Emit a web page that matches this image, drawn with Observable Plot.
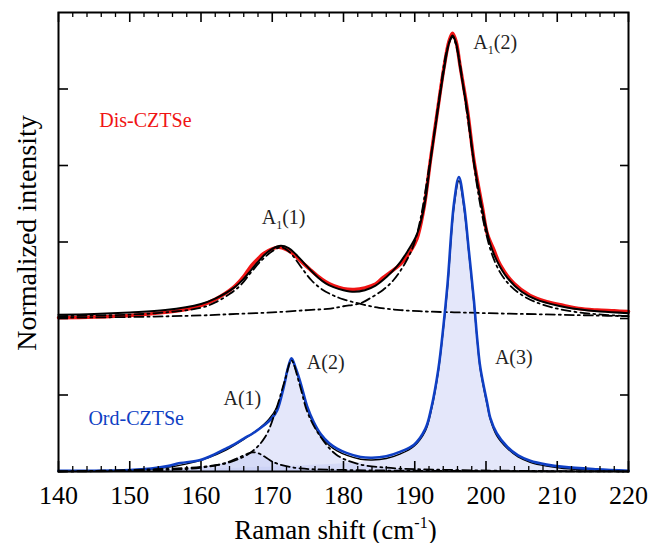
<!DOCTYPE html>
<html><head><meta charset="utf-8">
<script src="https://cdn.jsdelivr.net/npm/d3@7"></script>
<script src="https://cdn.jsdelivr.net/npm/@observablehq/plot@0.6"></script>
<style>
body{margin:0;background:#fff}
#chart svg, #chart svg text, #chart svg tspan {font-family: "Liberation Serif", "Times New Roman", serif !important;}
</style>
</head><body><div id="chart"></div>
<script>
// ---- Dis-CZTSe (offset spectrum) ----
const disDataX = [140,145,150,155,158,160,162,164.6,166,166.9,168,168.8,170,170.9,172,173,174,175.2,176.3,177.5,178.6,180,181.5,183,184.5,185.5,186.5,187.5,188.5,189.4,190.3,191.3,192.2,193.2,194.1,194.8,195.3,195.8,196.4,197.4,198.3,199.5,200.2,201.1,202,203.9,206.2,208.5,210.9,213,215.6,218,220];
const disDataY = [2.01,2.02,2.04,2.08,2.12,2.17,2.25,2.41,2.55,2.67,2.78,2.85,2.91,2.93,2.9,2.84,2.75,2.65,2.56,2.48,2.43,2.39,2.38,2.4,2.45,2.53,2.6,2.67,2.76,2.88,3.04,3.45,4.07,4.72,5.28,5.62,5.73,5.62,5.28,4.72,4.07,3.45,3.1,2.9,2.7,2.46,2.3,2.22,2.17,2.13,2.11,2.1,2.09];
const disFitX = [140,145,150,155,160,162,164.6,166,167,168,169,170,171.2,172.3,173.3,174.3,175.5,176.5,177.5,178.6,180,181.5,183,184.5,186,187.5,189,190.3,191.3,192.2,193.2,194.1,194.8,195.3,195.8,196.4,197.4,198.3,199.5,200.5,201.5,203,205,207,210,213,216,220];
const disFitY = [2.05,2.06,2.08,2.11,2.19,2.26,2.4,2.52,2.63,2.74,2.84,2.91,2.95,2.92,2.84,2.74,2.62,2.53,2.46,2.41,2.37,2.35,2.37,2.43,2.54,2.68,2.88,3.1,3.45,4.05,4.7,5.25,5.6,5.7,5.6,5.26,4.7,4.05,3.42,3.0,2.76,2.53,2.35,2.25,2.17,2.12,2.09,2.07];
const disA1X = [140,145,150,155,160,162,164,165.5,167,168.5,170,171.2,172.3,173.3,174.3,175.5,177,178.6,180,182.4,185,188,192,196,200,205,210,215,220];
const disA1Y = [2.03,2.04,2.05,2.08,2.14,2.21,2.32,2.43,2.6,2.76,2.88,2.93,2.88,2.77,2.64,2.5,2.38,2.3,2.25,2.19,2.14,2.11,2.09,2.08,2.07,2.06,2.05,2.04,2.03];
const disA2X = [140,150,160,165,170,175,178.2,180,182.4,184,185.5,187,188.5,189.8,190.8,191.8,192.7,193.6,194.5,195.3,196.1,197,197.9,198.8,199.8,200.8,202,203.5,205.5,208,211,215,220];
const disA2Y = [2.01,2.02,2.04,2.06,2.08,2.11,2.13,2.16,2.2,2.28,2.37,2.5,2.7,2.95,3.3,3.85,4.4,5.0,5.5,5.68,5.45,4.9,4.3,3.7,3.2,2.85,2.6,2.42,2.28,2.18,2.11,2.06,2.03];

// ---- Ord-CZTSe ----
const ordDataX = [140,145,150,153,155.3,157.1,159.9,161.8,163.5,164.6,166,167.3,168.8,170,170.7,171.6,172.2,172.7,173.3,174,174.9,175.8,176.8,178,179.1,180.5,182.4,184,186,188,189.9,191.5,192.3,193.3,194,194.6,195.5,196.2,196.9,197.6,198.3,198.8,199.2,200.2,200.6,201.5,203,204.5,206.2,208.5,210.9,215.6,220];
const ordDataY = [0.01,0.01,0.02,0.04,0.07,0.11,0.15,0.22,0.3,0.35,0.43,0.5,0.6,0.7,0.8,1.1,1.35,1.48,1.35,1.15,0.85,0.65,0.49,0.37,0.3,0.24,0.19,0.18,0.2,0.26,0.35,0.56,0.82,1.33,1.88,2.45,3.5,3.85,3.5,2.88,2.24,1.7,1.36,0.88,0.7,0.5,0.32,0.21,0.14,0.09,0.06,0.03,0.01];
const ordFitX = [140,150,155,158,161,163.5,166,168,169.5,170.7,171.6,172.2,172.7,173.3,174,174.9,175.8,176.8,178,179.1,180.5,182.4,184,186,188,189.9,191.5,192.3,193.3,194,194.6,195.5,196.2,196.9,197.6,198.3,198.8,199.2,200.2,200.6,201.5,203,204.5,206.2,208.5,210.9,215.6,220];
const ordFitY = [0.0,0.01,0.05,0.1,0.18,0.28,0.42,0.55,0.68,0.85,1.12,1.36,1.46,1.33,1.12,0.82,0.62,0.46,0.34,0.27,0.21,0.16,0.15,0.17,0.23,0.33,0.53,0.79,1.3,1.85,2.4,3.45,3.8,3.45,2.85,2.2,1.68,1.33,0.85,0.68,0.47,0.3,0.19,0.12,0.07,0.04,0.02,0.01];
const ordA1X = [140,155,160,163,165,166.5,167.2,168,169,170,171.5,174,180,190,220];
const ordA1Y = [0.0,0.02,0.05,0.1,0.17,0.23,0.25,0.24,0.19,0.13,0.08,0.04,0.02,0.01,0.0];
const ordA2X = [140,150,160,164,167,169,170.5,171.8,172.7,173.8,175,176.8,179,182,186,195,220];
const ordA2Y = [0.0,0.02,0.06,0.12,0.25,0.45,0.8,1.2,1.45,1.15,0.76,0.45,0.22,0.1,0.05,0.02,0.0];
const ordA3X = [140,150,160,170,175,180,184,186,188,189.9,191.5,192.3,193.3,194,194.6,195.5,196.2,196.9,197.6,198.3,198.8,199.2,200.2,200.6,201.5,203,204.5,206.2,208.5,210.9,215.6,220];
const ordA3Y = [0.0,0.01,0.03,0.06,0.08,0.1,0.14,0.17,0.23,0.32,0.53,0.79,1.3,1.85,2.4,3.45,3.8,3.45,2.85,2.2,1.68,1.33,0.85,0.68,0.47,0.3,0.19,0.12,0.07,0.04,0.02,0.01];

// ---- ticks and text ----
const xMajorTicks = [140,150,160,170,180,190,200,210,220];
const xMinorTicks = [142,144,146,148,152,154,156,158,162,164,166,168,172,174,176,178,182,184,186,188,192,194,196,198,202,204,206,208,212,214,216,218];
const yTicks = [1,2,3,4,5];
const xTitle = "Raman shift (cm-1)";
const yTitle = "Normalized intensity";
const sampleNames = ["Dis-CZTSe","Ord-CZTSe"];
const sampleX = [152.2,150.9];
const sampleY = [4.59,0.69];
const peakNames = ["A1(1)","A1(2)","A(1)","A(2)","A(3)"];
const peakX = [171.6,201.3,165.8,177.5,203.9];
const peakY = [3.32,5.61,0.95,1.42,1.49];

const RED = "#f01414", BLUE = "#0f3fc4", FILL = "#c3c9f3";
const rows = (xs, ys) => xs.map((x, i) => ({x, y: ys[i]}));
const dash = "9,4,2,4";
const curve = "catmull-rom";

const W = 662, H = 543, ML = 58, MR = 34, MT = 12, MB = 72;
const FW = W - ML - MR, FH = H - MT - MB;
const Y0 = 0, Y1 = 6;
// tick lengths (pixels) expressed in y-data units so ticks point inward from top/bottom
const majLen = (Y1 - Y0) * 10 / FH, minLen = (Y1 - Y0) * 5 / FH;

const chart = Plot.plot({
  width: W, height: H,
  marginLeft: ML, marginRight: MR, marginTop: MT, marginBottom: MB,
  x: {domain: [140, 220], label: null},
  y: {domain: [Y0, Y1], label: null, axis: null},
  style: {fontFamily: "Liberation Serif", background: "white", color: "black"},
  marks: [
    Plot.areaY(rows(ordA3X, ordA3Y), {x: "x", y: "y", fill: FILL, fillOpacity: 0.45, curve}),
    Plot.areaY(rows(ordA2X, ordA2Y), {x: "x", y: "y", fill: FILL, fillOpacity: 0.45, curve}),
    Plot.areaY(rows(ordA1X, ordA1Y), {x: "x", y: "y", fill: FILL, fillOpacity: 0.45, curve}),
    // Dis
    Plot.line(rows(disDataX, disDataY), {x: "x", y: "y", stroke: RED, strokeWidth: 3.5, curve}),
    Plot.line(rows(disA1X, disA1Y), {x: "x", y: "y", stroke: "black", strokeWidth: 1.8, strokeDasharray: dash, curve}),
    Plot.line(rows(disA2X, disA2Y), {x: "x", y: "y", stroke: "black", strokeWidth: 1.8, strokeDasharray: dash, curve}),
    Plot.line(rows(disFitX, disFitY), {x: "x", y: "y", stroke: "black", strokeWidth: 2, curve}),
    // Ord
    Plot.line(rows(ordFitX, ordFitY), {x: "x", y: "y", stroke: "black", strokeWidth: 1.4, curve}),
    Plot.line(rows(ordDataX, ordDataY), {x: "x", y: "y", stroke: BLUE, strokeWidth: 2.6, curve}),
    Plot.line(rows(ordA1X, ordA1Y), {x: "x", y: "y", stroke: "black", strokeWidth: 1.8, strokeDasharray: dash, curve}),
    Plot.line(rows(ordA2X, ordA2Y), {x: "x", y: "y", stroke: "black", strokeWidth: 1.8, strokeDasharray: dash, curve}),
    // inward ticks on all four sides
    Plot.ruleX(xMajorTicks, {x: d => d, y1: Y0, y2: Y0 + majLen, stroke: "black", strokeWidth: 1.6}),
    Plot.ruleX(xMinorTicks, {x: d => d, y1: Y0, y2: Y0 + minLen, stroke: "black", strokeWidth: 1.3}),
    Plot.ruleX(xMajorTicks, {x: d => d, y1: Y1 - majLen, y2: Y1, stroke: "black", strokeWidth: 1.6}),
    Plot.ruleX(xMinorTicks, {x: d => d, y1: Y1 - minLen, y2: Y1, stroke: "black", strokeWidth: 1.3}),
    Plot.tickY(yTicks, {y: d => d, insetRight: FW - 10, stroke: "black", strokeWidth: 1.6}),
    Plot.tickY(yTicks, {y: d => d, insetLeft: FW - 8, stroke: "black", strokeWidth: 1.6}),
    Plot.frame({stroke: "black", strokeWidth: 2}),
    Plot.axisX(xMajorTicks, {anchor: "bottom", tickSize: 0, tickPadding: 14, fontSize: 26, tickFormat: d => String(d)}),
    // titles
    Plot.text([xTitle], {frameAnchor: "bottom", textAnchor: "middle", dx: -8, dy: 67, lineAnchor: "bottom", fontSize: 27, fill: "black"}),
    Plot.text([yTitle], {frameAnchor: "left", textAnchor: "middle", rotate: -90, dx: -23, dy: -9, lineAnchor: "bottom", fontSize: 28, fill: "black"}),
    // annotations
    Plot.text(sampleNames, {x: (d, i) => sampleX[i], y: (d, i) => sampleY[i], text: d => d, fill: (d, i) => i === 0 ? RED : BLUE, fontSize: 20}),
    Plot.text(peakNames, {x: (d, i) => peakX[i], y: (d, i) => peakY[i], text: d => d, fill: "#222", fontSize: 20})
  ]
});
chart.setAttribute("font-family", "Liberation Serif");
document.getElementById("chart").appendChild(chart);

// subscripts / superscripts as real text
d3.select(chart).selectAll("text").each(function() {
  const t = this.textContent;
  const el = d3.select(this);
  const m = /^A1(\(\d\))$/.exec(t);
  if (m) {
    el.text(null);
    el.append("tspan").text("A");
    el.append("tspan").attr("dy", "5").attr("font-size", "12").text("1");
    el.append("tspan").attr("dy", "-5").text(m[1]);
  } else if (t === xTitle) {
    el.text(null);
    el.append("tspan").text("Raman shift (cm");
    el.append("tspan").attr("dy", "-11").attr("font-size", "16").text("-1");
    el.append("tspan").attr("dy", "11").text(")");
  }
});
</script>
</body></html>
